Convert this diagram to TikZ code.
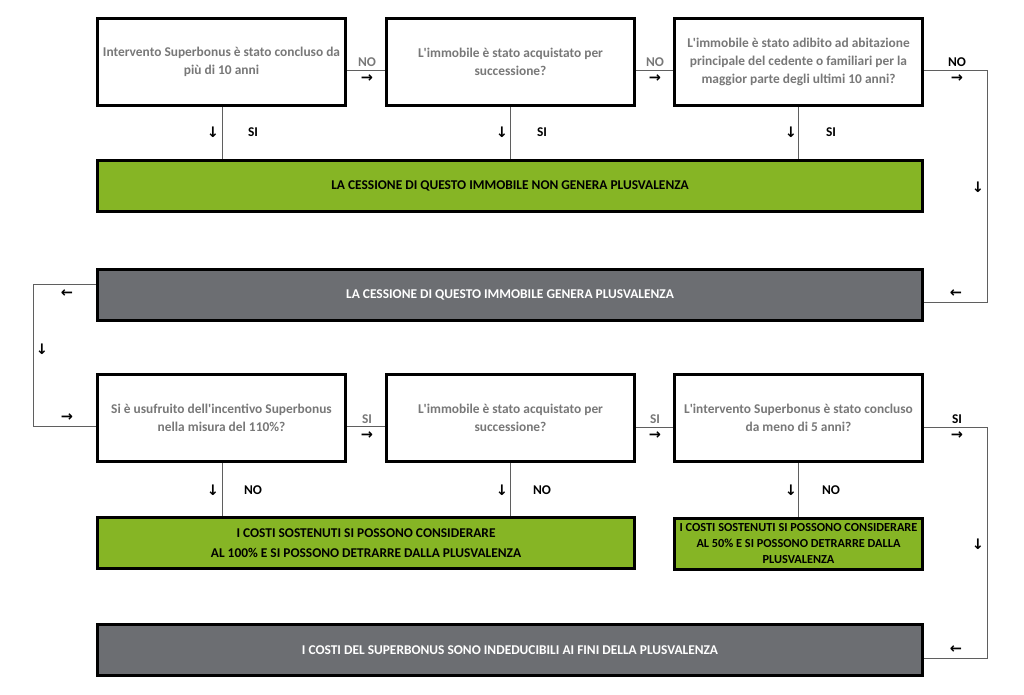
\documentclass[tikz,border=0pt]{standalone}
\usepackage{fontspec}
\setmainfont{Carlito}
\newfontfamily\arrowfont{DejaVu Sans}
\definecolor{qgray}{RGB}{120,120,120}
\definecolor{barGreen}{RGB}{134,181,37}
\definecolor{barGray}{RGB}{108,110,114}
\definecolor{lineGray}{RGB}{95,95,95}
\newcommand\myqfont{\bfseries\fontsize{13.4}{18}\selectfont}
\newcommand\mybarfont{\bfseries\fontsize{13.4}{20.5}\selectfont}
\newcommand\mysmallbarfont{\bfseries\fontsize{12.3}{16}\selectfont}
\newcommand\mylblfont{\bfseries\fontsize{13.4}{14}\selectfont}
\newcommand\apo{\textquotesingle}
\tikzset{
  qbox/.style={draw=black, line width=3pt, fill=white, minimum width=248pt,
    minimum height=87pt, inner sep=0pt, align=center, text=qgray, font=\myqfont},
  greenbar/.style={draw=black, line width=3pt, fill=barGreen, minimum height=51pt,
    inner sep=0pt, align=center, text=black, font=\mybarfont},
  graybar/.style={draw=black, line width=3pt, fill=barGray, minimum height=51pt,
    inner sep=0pt, align=center, text=white, font=\mybarfont},
  conn/.style={draw=lineGray, line width=0.9pt},
  lbl/.style={font=\mylblfont, inner sep=0pt, text=black},
  glbl/.style={lbl, text=qgray},
  arr/.style={font=\arrowfont\bfseries\fontsize{14.5}{14.5}\selectfont, inner sep=0pt, text=black},
}
\begin{document}
\begin{tikzpicture}[x=1pt,y=-1pt]
\useasboundingbox (0,0) rectangle (1024,694);
% row 1
\node[qbox] (q1) at (221.5,62) {Intervento Superbonus è stato concluso da\\più di 10 anni};
\node[qbox] (q2) at (510.5,62) {L\apo immobile è stato acquistato per\\successione?};
\node[qbox] (q3) at (798.5,62) {L\apo immobile è stato adibito ad abitazione\\principale del cedente o familiari per la\\maggior parte degli ultimi 10 anni?};
\node[greenbar, minimum width=825pt] (g1) at (510,186) {LA CESSIONE DI QUESTO IMMOBILE NON GENERA PLUSVALENZA};
\node[graybar, minimum width=825pt] (r1) at (510,294.5) {LA CESSIONE DI QUESTO IMMOBILE GENERA PLUSVALENZA};
% row 3
\node[qbox] (q4) at (221.5,418) {Si è usufruito dell\apo incentivo Superbonus\\nella misura del 110\%?};
\node[qbox] (q5) at (510.5,418) {L\apo immobile è stato acquistato per\\successione?};
\node[qbox] (q6) at (798.5,418) {L\apo intervento Superbonus è stato concluso\\da meno di 5 anni?};
\node[greenbar, minimum width=537pt] (g2) at (366,543) {I COSTI SOSTENUTI SI POSSONO CONSIDERARE\\AL 100\% E SI POSSONO DETRARRE DALLA PLUSVALENZA};
\node[greenbar, minimum width=248pt, font=\mysmallbarfont] (g3) at (798.5,543.5) {I COSTI SOSTENUTI SI POSSONO CONSIDERARE\\AL 50\% E SI POSSONO DETRARRE DALLA\\PLUSVALENZA};
\node[graybar, minimum width=825pt] (r2) at (510,650) {I COSTI DEL SUPERBONUS SONO INDEDUCIBILI AI FINI DELLA PLUSVALENZA};

% helper coordinates
\coordinate (c1) at (987,70);
\coordinate (c2) at (987,302);
\coordinate (c3) at (33,284);
\coordinate (c4) at (33,426);
\coordinate (c5) at (987,427);
\coordinate (c6) at (987,658);

% connectors row 1
\draw[conn] ([yshift=-8pt]q1.east) -- ([yshift=-8pt]q2.west);
\draw[conn] ([yshift=-8pt]q2.east) -- ([yshift=-8pt]q3.west);
\draw[conn] ([yshift=-8pt]q3.east) -- (c1) -- (c2) -- (r1.east |- c2);
\draw[conn] ([xshift=0.5pt]q1.south) -- ([xshift=0.5pt]q1.south |- g1.north);
\draw[conn] (q2.south) -- (q2.south |- g1.north);
\draw[conn] (q3.south) -- (q3.south |- g1.north);
% connectors row 2-3
\draw[conn] (r1.west |- c3) -- (c3) -- (c4) -- (q4.west |- c4);
\draw[conn] ([yshift=-8pt]q4.east) -- ([yshift=-8pt]q5.west);
\draw[conn] ([yshift=-9pt]q5.east) -- ([yshift=-9pt]q6.west);
\draw[conn] ([yshift=-9pt]q6.east) -- (c5) -- (c6) -- (r2.east |- c6);
\draw[conn] ([xshift=0.5pt]q4.south) -- ([xshift=0.5pt]q4.south |- g2.north);
\draw[conn] (q5.south) -- (q5.south |- g2.north);
\draw[conn] (q6.south) -- (q6.south |- g3.north);

% labels row 1
\node[glbl] (l1) at (367,62) {NO};
\node[arr] (a1) at (367,79) {→};
\node[glbl] (l2) at (655,62) {NO};
\node[arr] (a2) at (655,79) {→};
\node[lbl] (l3) at (957,62) {NO};
\node[arr] (a3) at (957,79) {→};
\node[arr] (a4) at (213,132) {↓};
\node[lbl] (l4) at (253,132) {SI};
\node[arr] (a5) at (502,132) {↓};
\node[lbl] (l5) at (542,132) {SI};
\node[arr] (a6) at (791,132) {↓};
\node[lbl] (l6) at (831,132) {SI};
\node[arr] (a7) at (978,187) {↓};
\node[arr] (a8) at (956,294) {←};
\node[arr] (a9) at (67,294) {←};
\node[arr] (a10) at (42,349) {↓};
\node[arr] (a11) at (67,418) {→};
% labels row 3
\node[glbl] (l7) at (367,419) {SI};
\node[arr] (a12) at (367,436) {→};
\node[glbl] (l8) at (655,419) {SI};
\node[arr] (a13) at (655,436) {→};
\node[lbl] (l9) at (957,419) {SI};
\node[arr] (a14) at (957,436) {→};
\node[arr] (a15) at (213,490) {↓};
\node[lbl] (l10) at (253,490) {NO};
\node[arr] (a16) at (502,490) {↓};
\node[lbl] (l11) at (542,490) {NO};
\node[arr] (a17) at (791,490) {↓};
\node[lbl] (l12) at (831,490) {NO};
\node[arr] (a18) at (978,544) {↓};
\node[arr] (a19) at (956,650) {←};
\end{tikzpicture}
\end{document}
